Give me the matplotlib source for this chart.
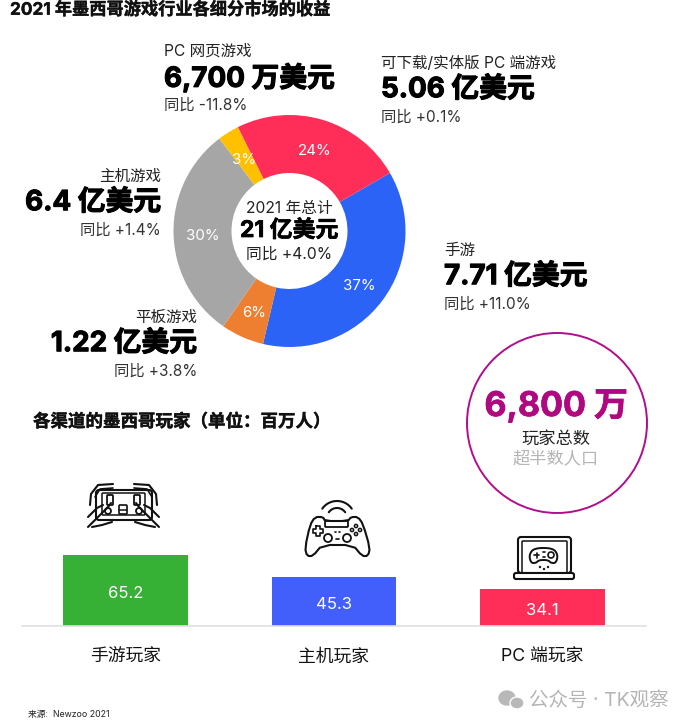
import numpy as np
import matplotlib
matplotlib.use("Agg")
import matplotlib.pyplot as plt
from matplotlib.patches import Circle, Ellipse, FancyBboxPatch, Polygon
import matplotlib.patheffects as pe

plt.rcParams['font.family'] = ['Inter', 'Noto Sans CJK SC', 'DejaVu Sans']

W, H = 687, 727

# donut data
segment_names = ["手游", "平板游戏", "主机游戏", "PC 网页游戏", "可下载/实体版 PC 端游戏"]
segment_share = [37, 6, 30, 3, 24]
segment_colors = ["#2B63F6", "#EE7F30", "#A6A6A6", "#FFC000", "#FF2E58"]
segment_money = ["7.71 亿美元", "1.22 亿美元", "6.4 亿美元", "6,700 万美元", "5.06 亿美元"]
segment_yoy = ["同比 +11.0%", "同比 +3.8%", "同比 +1.4%", "同比 -11.8%", "同比 +0.1%"]

# bars
player_groups = ["手游玩家", "主机玩家", "PC 端玩家"]
player_counts = [65.2, 45.3, 34.1]
player_colors = ["#36B035", "#425FFB", "#FF2E58"]


def px_axes(left, top, width, height):
    return fig.add_axes([left / W, 1 - (top + height) / H, width / W, height / H])


fig = plt.figure(figsize=(W / 100, H / 100), dpi=100, facecolor="white")

# DONUT
cx, cy, r = 289.5, 231, 116
pad = 1.1
ax_pie = px_axes(cx - r * pad, cy - r * pad, 2 * r * pad, 2 * r * pad)
wedges, _, autotexts = ax_pie.pie(
    segment_share, colors=segment_colors, startangle=30, counterclock=False,
    radius=1, wedgeprops=dict(width=0.5), autopct="%d%%", pctdistance=0.75,
    textprops=dict(color="white", fontsize=10.8))
ax_pie.set_xlim(-pad, pad)
ax_pie.set_ylim(-pad, pad)
# the percent labels sit a little under the mid radius
for a in autotexts:
    px, py = a.get_position()
    a.set_position((px, py - 3 / r))

# BARS
base_y = 626
unit_px = 71 / 65.2
bar_h = 120
ax_bar = px_axes(22, base_y - bar_h, 624, bar_h)
xs = np.arange(len(player_counts))
bars = ax_bar.bar(xs, player_counts, width=0.596, color=player_colors)
ax_bar.bar_label(bars, labels=[str(v) for v in player_counts], label_type="center",
                 color="white", fontsize=12, padding=-2)
ax_bar.set_xlim(-0.496, 2.497)
ax_bar.set_ylim(0, bar_h / unit_px)
ax_bar.set_xticks(xs)
ax_bar.set_xticklabels(player_groups, fontsize=12.8, color="#111111", va="baseline")
ax_bar.tick_params(axis="x", length=0, pad=26)
ax_bar.set_yticks([])
for s in ["top", "left", "right"]:
    ax_bar.spines[s].set_visible(False)
ax_bar.spines["bottom"].set_color("#E0E0E0")
ax_bar.spines["bottom"].set_linewidth(1.2)
ax_bar.patch.set_alpha(0)

# overlay in pixel coordinates
ov = fig.add_axes([0, 0, 1, 1])
ov.set_xlim(0, W)
ov.set_ylim(H, 0)
ov.axis("off")


def t(x, y, s, size=10.5, weight="normal", color="#222222", ha="left", heavy=0):
    txt = ov.text(x, y + 1, s, fontsize=size, fontweight=weight, color=color, ha=ha, va="center")
    if heavy:
        txt.set_path_effects([pe.withStroke(linewidth=heavy, foreground=color)])
    return txt


t(10, 9, "2021 年墨西哥游戏行业各细分市场的收益", 12.4, "bold", "#111111", heavy=0.3)


def callout(x, y, idx, ha="left"):
    t(x, y, segment_names[idx], 11.2, ha=ha)
    t(x, y + 27, segment_money[idx], 20, "bold", "#000000", ha=ha, heavy=0.8)
    t(x, y + 54, segment_yoy[idx], 11, ha=ha, color="#333333")


callout(164, 50, 3)
callout(381, 62, 4)
callout(444, 249, 0)
callout(161, 175, 2, ha="right")
callout(197, 316, 1, ha="right")

# center of donut
t(289, 207, "2021 年总计", 11.3, ha="center")
t(289, 230, "21 亿美元", 16.5, "bold", "#000000", ha="center", heavy=0.5)
t(289, 253, "同比 +4.0%", 11.3, ha="center")

# total circle
ov.add_patch(Circle((557, 423), 90, fill=False, ec="#B10E8C", lw=1.4))
t(556, 405, "6,800 万", 24.5, "bold", "#B0087F", ha="center", heavy=0.5)
t(556, 438, "玩家总数", 12.4, ha="center")
t(556, 458, "超半数人口", 12.4, color="#B5B5B5", ha="center")

t(33, 421, "各渠道的墨西哥玩家（单位：百万人）", 12.6, "bold", "#111111", heavy=0.3)
t(28, 714, "来源:  Newzoo 2021", 6.3, color="#222222")

# watermark
t(529, 700, "公众号 · TK观察", 14, color="#B4B4B4")
ov.add_patch(Ellipse((507, 698), 16, 14, color="#B8B8B8"))
ov.add_patch(Ellipse((517, 703), 14, 12, fc="#B8B8B8", ec="white", lw=1))

# ICONS
ink = "#111111"
lw = 1.5


def pl(xs, ys, width=lw):
    ov.plot(xs, ys, color=ink, lw=width, solid_capstyle="round", solid_joinstyle="round")


def ring(x, y, rad, width=lw):
    ov.add_patch(Circle((x, y), rad, fill=False, ec=ink, lw=width))


def box(x, y, w, h, rnd=2, width=lw, fc="none"):
    ov.add_patch(FancyBboxPatch((x, y), w, h, boxstyle=f"round,pad=0,rounding_size={rnd}",
                                fc=fc, ec=ink, lw=width))


def smooth(pts, rounds=2):
    # corner cutting so outlines look drawn rather than polygonal
    pts = np.asarray(pts, dtype=float)
    for _ in range(rounds):
        nxt = np.roll(pts, -1, axis=0)
        pts = np.column_stack([0.75 * pts + 0.25 * nxt, 0.25 * pts + 0.75 * nxt]).reshape(-1, 2)
    return pts


# phone and hands
box(96, 490, 56, 30, 3)
box(102, 493, 43, 22, 1, 1.1)
pl([90, 91, 98, 113], [505, 494, 485, 484])
pl([157, 156, 149, 134], [505, 494, 485, 484])
pl([95, 100, 113], [497, 489, 488], 1.2)
pl([152, 147, 134], [497, 489, 488], 1.2)
pl([88, 98, 108, 111], [527, 517, 507, 503])
pl([159, 149, 139, 136], [527, 517, 507, 503])
pl([88, 97, 103], [517, 508, 505])
pl([159, 150, 144], [517, 508, 505])
pl([92, 102, 112], [527, 525, 522])
pl([155, 145, 135], [527, 525, 522])
box(119, 505, 8, 9, 1, 1.2)
pl([119, 127], [509.5, 509.5], 1.1)
box(107, 495, 6, 10, 1, 1.3)
box(134, 495, 6, 10, 1, 1.3)
ring(108, 511, 3, 1.3)
ring(139, 511, 3, 1.3)

# gamepad with wifi arcs
ang = np.radians(np.linspace(215, 325, 30))
for rad, top in [(18, 501), (10, 508)]:
    pl(337 + rad * np.cos(ang), top + rad + rad * np.sin(ang))
pad_outline = [(310, 525), (315, 517), (323, 517), (325, 521), (348, 521), (351, 517),
               (358, 517), (363, 524), (370, 548), (368, 556), (362, 556), (353, 545),
               (322, 545), (313, 556), (307, 556), (305, 548)]
ov.add_patch(Polygon(smooth(pad_outline, 1), closed=True, fill=False, ec=ink, lw=lw, joinstyle="round"))
box(325, 521, 23, 6, 1, 1.3)
pl([316, 316, 313, 313, 316, 316, 320, 320, 323, 323, 320, 320, 316],
   [526, 529, 529, 533, 533, 536, 536, 533, 533, 529, 529, 526, 526], 1.2)
for dx, dy in [(0, -4), (4, 0), (0, 4), (-4, 0)]:
    ring(356 + dx, 530 + dy, 1.6, 1.1)
ring(328, 538, 4, 1.3)
ring(347, 538, 4, 1.3)
pl([335, 336], [532, 532], 1.2)
pl([339, 340], [532, 532], 1.2)
pl([336, 339], [539, 539], 1.2)

# laptop with controller
box(518, 537, 53, 36, 3)
box(522, 541, 45, 32, 1, 1.1)
box(514, 573, 60, 6, 2, 1.5, "white")
ctrl = [(534, 548), (553, 548), (558, 555), (556, 563), (551, 563), (548, 560), (539, 560),
        (536, 563), (531, 563), (529, 555)]
ov.add_patch(Polygon(smooth(ctrl, 2), closed=True, fill=False, ec=ink, lw=1.4))
ring(551, 555, 3, 1.2)
pl([534, 539], [555, 555], 1.2)
pl([536.5, 536.5], [552.5, 557.5], 1.2)
pl([543, 545], [552, 552], 1.2)
pl([543, 545], [557, 557], 1.2)
for xp, yp in [(540, 567), (544, 569), (548, 567)]:
    ring(xp, yp, 0.5, 1)

fig.savefig("out.png", dpi=100)
